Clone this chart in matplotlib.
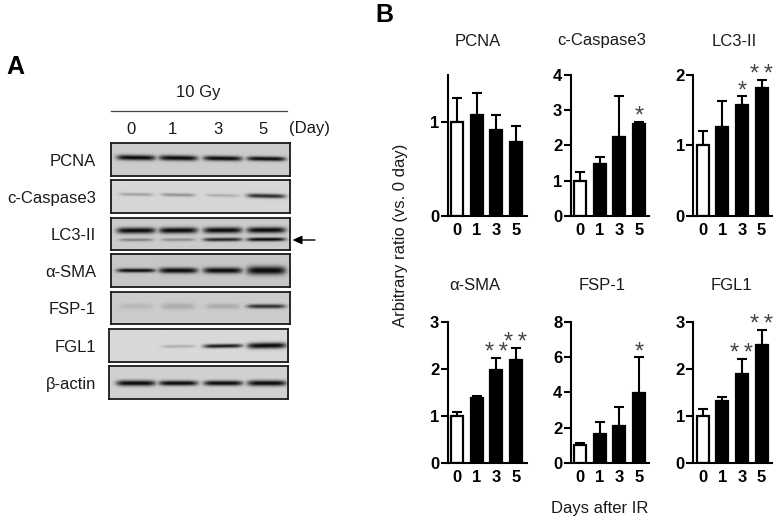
import numpy as np
import matplotlib
matplotlib.use("Agg")
import matplotlib.pyplot as plt

plt.rcParams['font.family'] = ['Liberation Sans', 'DejaVu Sans']

W, H = 783, 522

# ---- bar chart data ----
days = ['0', '1', '3', '5']
pcna_mean = [1.0, 1.07, 0.91, 0.79]
pcna_top = [1.25, 1.31, 1.07, 0.96]
casp_mean = [1.0, 1.47, 2.25, 2.62]
casp_top = [1.23, 1.66, 3.39, 2.67]
lc3_mean = [1.0, 1.26, 1.58, 1.82]
lc3_top = [1.21, 1.63, 1.70, 1.93]
sma_mean = [1.0, 1.37, 1.97, 2.2]
sma_top = [1.08, 1.42, 2.24, 2.45]
fsp_mean = [1.0, 1.61, 2.09, 3.98]
fsp_top = [1.14, 2.29, 3.15, 5.99]
fgl_mean = [1.0, 1.32, 1.9, 2.5]
fgl_top = [1.14, 1.41, 2.22, 2.84]
pcna_stars = ['', '', '', '']
casp_stars = ['', '', '', '*']
lc3_stars = ['', '', '*', '**']
sma_stars = ['', '', '**', '**']
fsp_stars = ['', '', '', '*']
fgl_stars = ['', '', '**', '**']

# ---- western blot data: band strength per lane (0 = none, 1 = saturated) ----
blot_names = ['PCNA', 'c-Caspase3', 'LC3-II', 'α-SMA', 'FSP-1', 'FGL1', 'β-actin']
pcna_band = [0.97, 0.95, 0.95, 0.92]
casp_band = [0.22, 0.28, 0.17, 0.70]
lc3_upper = [0.95, 0.95, 0.97, 0.97]
lc3_lower = [0.32, 0.27, 0.72, 0.85]
sma_band = [0.85, 0.98, 0.98, 1.0]
fsp_band = [0.08, 0.14, 0.14, 0.68]
fgl_band = [0.0, 0.17, 0.78, 0.95]
actin_band = [1.0, 0.98, 0.98, 0.98]

LABEL_SIZE = 12.0


def px_axes(x0, y0, x1, y1):
    return fig.add_axes([x0 / W, 1 - y1 / H, (x1 - x0) / W, (y1 - y0) / H])


fig = plt.figure(figsize=(W / 100, H / 100), dpi=100, facecolor='white')


def blot(box, bands, label):
    x0, y0, x1, y1 = box
    ax = px_axes(x0, y0, x1, y1)
    sx, sy = 3, 3
    nx, ny = int((x1 - x0) * sx), int((y1 - y0) * sy)
    xs = (np.arange(nx) + 0.5) / sx + x0
    ys = (np.arange(ny) + 0.5) / sy
    X, Y = np.meshgrid(xs, ys)
    img = np.full((ny, nx), bands['bg'])
    absorb = np.zeros_like(img)
    for strengths, frac, thick, tilt in bands['rows']:
        for cx, s, t in zip([136, 178, 222.5, 266], strengths, thick):
            half = 19.5 if s > 0.4 else 17
            yc = frac * (y1 - y0) + tilt * (cx - 200) / 60 + tilt * (X - cx) / 38
            prof_x = np.exp(-((X - cx) / half) ** 6)
            prof_y = np.exp(-((Y - yc) / t) ** 2)
            absorb = np.maximum(absorb, min(1.0, s * 1.2) * prof_x * prof_y)
    img = img * (1 - absorb) + 0.03 * absorb
    ax.imshow(img, cmap='gray', vmin=0, vmax=1, aspect='auto', interpolation='bilinear')
    ax.set_xticks([])
    ax.set_yticks([])
    for s in ax.spines.values():
        s.set_linewidth(1.3)
        s.set_color('#1a1a1a')
    fig.text(96 / W, 1 - ((y0 + y1) / 2 + 2) / H, label, ha='right', va='center',
             fontsize=LABEL_SIZE, color='#1a1a1a')


blot((110.7, 143.3, 289.7, 175.7), dict(bg=0.80, rows=[(pcna_band, 0.46, [2.6, 2.6, 2.4, 2.2], 0.5)]), blot_names[0])
blot((110.7, 180.3, 289.7, 213), dict(bg=0.84, rows=[(casp_band, 0.46, [1.5, 1.6, 1.4, 2.1], 0.7)]), blot_names[1])
blot((110.7, 217.7, 289.7, 250), dict(bg=0.80, rows=[(lc3_upper, 0.40, [2.9, 2.9, 2.9, 2.9], -0.2),
                                                      (lc3_lower, 0.68, [1.5, 1.5, 1.8, 1.8], -0.2)]), blot_names[2])
blot((110.7, 254.3, 289.7, 287.3), dict(bg=0.78, rows=[(sma_band, 0.50, [2.0, 2.8, 3.0, 4.2], 0.0)]), blot_names[3])
blot((110.7, 291.7, 289.7, 324), dict(bg=0.80, rows=[(fsp_band, 0.46, [3.0, 3.0, 2.6, 2.0], 0.0)]), blot_names[4])
blot((109, 329, 288.3, 361.7), dict(bg=0.85, rows=[(fgl_band, 0.52, [1.5, 1.5, 1.9, 2.9], -0.5)]), blot_names[5])
blot((109, 366.3, 288.3, 399), dict(bg=0.82, rows=[(actin_band, 0.52, [2.8, 2.5, 2.5, 2.8], 0.0)]), blot_names[6])

# overlay in pixel coordinates for panel annotations
ov = fig.add_axes([0, 0, 1, 1], facecolor='none')
ov.set_xlim(0, W)
ov.set_ylim(H, 0)
ov.axis('off')
ov.text(15, 67, 'A', ha='center', va='center', fontsize=18, fontweight='bold')
ov.text(384, 15, 'B', ha='center', va='center', fontsize=18, fontweight='bold')
ov.text(198, 92, '10 Gy', ha='center', va='center', fontsize=LABEL_SIZE, color='#1a1a1a')
ov.plot([110.7, 287], [110.7, 110.7], color='#444444', lw=0.9)
for lab, xp in zip(days, [131, 172, 218, 263]):
    ov.text(xp, 129, lab, ha='center', va='center', fontsize=LABEL_SIZE, color='#1a1a1a')
ov.text(309, 129, '(Day)', ha='center', va='center', fontsize=LABEL_SIZE, color='#1a1a1a')
ov.annotate('', xy=(292.5, 240), xytext=(315, 240),
            arrowprops=dict(arrowstyle='-|>,head_length=0.55,head_width=0.25', color='black', lw=1.0,
                            shrinkA=0, shrinkB=0))
ov.text(400.5, 235, 'Arbitrary ratio (vs. 0 day)', rotation=90, ha='center', va='center',
        fontsize=LABEL_SIZE, color='#1a1a1a')
ov.text(600, 508, 'Days after IR', ha='center', va='center', fontsize=LABEL_SIZE, color='#1a1a1a')


def panel(spine_x, right_x, base_y, top_y, first_c, title, title_x, means, tops, stars, ymax, yticks):
    step = 19.65
    ax = px_axes(spine_x, top_y, right_x, base_y)
    ax.set_facecolor('none')
    ax.set_xlim((spine_x - first_c) / step, (right_x - first_c) / step)
    ax.set_ylim(0, ymax)
    pos = np.arange(4)
    colors = ['white', 'black', 'black', 'black']
    ax.bar(pos, means, width=0.6, color=colors, edgecolor='black', linewidth=1.6, zorder=2)
    upper = np.array(tops) - np.array(means)
    ax.errorbar(pos, means, yerr=[np.zeros(4), upper], fmt='none', ecolor='black',
                elinewidth=1.5, capsize=3.4, capthick=1.5, zorder=1)
    for sp in ('top', 'right'):
        ax.spines[sp].set_visible(False)
    for sp in ('left', 'bottom'):
        ax.spines[sp].set_linewidth(1.5)
    ax.set_xticks(pos)
    ax.set_xticklabels(days, fontsize=12, fontweight='bold')
    ax.tick_params(axis='x', length=0, pad=5)
    ax.set_yticks(yticks)
    ax.set_yticklabels([str(t) for t in yticks], fontsize=12, fontweight='bold')
    ax.tick_params(axis='y', length=5, width=1.5, pad=1)
    for p, t, s in zip(pos, tops, stars):
        if s:
            ax.annotate('\u2009'.join(s) if len(s) > 1 else s, xy=(p, t), xytext=(0, 3.5),
                        textcoords='offset points', ha='center', va='center',
                        fontsize=17, color='#444444', annotation_clip=False)
    ov.text(title_x, top_y - (34 if base_y < 300 else 36), title, ha='center', va='center',
            fontsize=LABEL_SIZE, color='#1a1a1a')


row1 = (215.7, 75.0)
row2 = (462.7, 322.0)
col1 = (447.5, 526.7, 457.0)
col2 = (570.7, 649.0, 580.0)
col3 = (693.3, 771.7, 702.7)

panel(*col1[:2], *row1, col1[2], 'PCNA', 477.7, pcna_mean, pcna_top, pcna_stars, 1.5, [0, 1])
panel(*col2[:2], *row1, col2[2], 'c-Caspase3', 601.7, casp_mean, casp_top, casp_stars, 4, [0, 1, 2, 3, 4])
panel(*col3[:2], *row1, col3[2], 'LC3-II', 734, lc3_mean, lc3_top, lc3_stars, 2, [0, 1, 2])
panel(*col1[:2], *row2, col1[2], 'α-SMA', 475, sma_mean, sma_top, sma_stars, 3, [0, 1, 2, 3])
panel(*col2[:2], *row2, col2[2], 'FSP-1', 601.7, fsp_mean, fsp_top, fsp_stars, 8, [0, 2, 4, 6, 8])
panel(*col3[:2], *row2, col3[2], 'FGL1', 731.7, fgl_mean, fgl_top, fgl_stars, 3, [0, 1, 2, 3])

fig.savefig('out.png', dpi=100, facecolor='white')
